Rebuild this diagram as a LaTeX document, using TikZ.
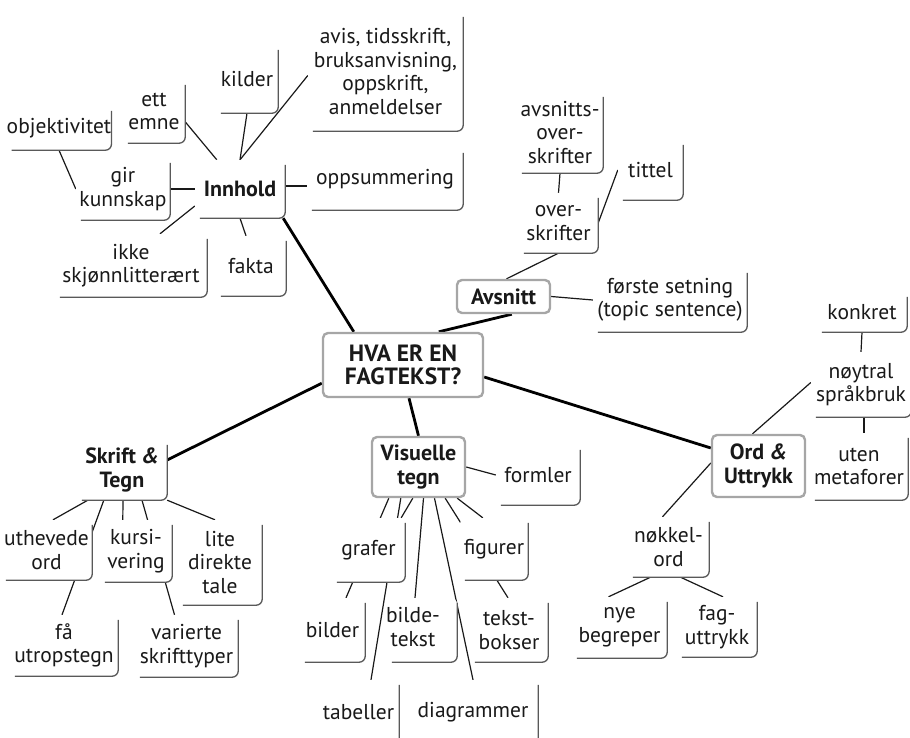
\documentclass[tikz,border=0pt]{standalone}
\usepackage{fontspec}
\setmainfont{PT Sans}
\usetikzlibrary{calc}
\pgfdeclarelayer{bg}
\pgfsetlayers{bg,main}
\begin{document}
\begin{tikzpicture}[x=1pt,y=-1pt,
  bx/.style={fill=white, rounded corners=6pt, inner sep=0pt, align=center,
    text=black!90, font=\fontsize{21.5}{23.5}\selectfont},
  boldbx/.style={bx, font=\fontsize{22}{23.5}\selectfont\bfseries},
  mainbx/.style={bx, draw=black!35, line width=2.4pt, rounded corners=5pt,
    font=\fontsize{22}{23.5}\selectfont\bfseries},
  shd/.style={draw=black!65, line width=1.3pt, rounded corners=6pt},
  ln/.style={draw=black!90, line width=1.2pt},
  tln/.style={draw=black, line width=2.8pt}]
\useasboundingbox (0,0) rectangle (910,738);

% ---------- Innhold ----------
\node[boldbx, minimum width=90pt, minimum height=58pt] (inn) at (240,189) {Innhold};
\node[bx, minimum width=155pt, minimum height=119pt] (avis) at (385.5,71.5) {avis, tidsskrift,\\bruksanvisning,\\oppskrift,\\anmeldelser};
\node[bx, minimum width=62pt, minimum height=68pt] (kil) at (247,79) {kilder};
\node[bx, minimum width=62pt, minimum height=63pt] (ett) at (154,111.5) {ett\\emne};
\node[bx, minimum width=102pt, minimum height=44pt] (obj) at (59,128) {objektivitet};
\node[bx, minimum width=94pt, minimum height=62pt] (gir) at (123,189) {gir\\kunnskap};
\node[bx, minimum width=156pt, minimum height=62pt] (opp) at (385,179) {oppsummering};
\node[bx, minimum width=152pt, minimum height=63pt] (ikke) at (131,265.5) {ikke\\skjønnlitterært};
\node[bx, minimum width=70pt, minimum height=60pt] (fak) at (251,266) {fakta};

% ---------- centre ----------
\node[mainbx, minimum width=160pt, minimum height=64pt, font=\fontsize{23.5}{23.5}\selectfont\bfseries] (hva) at (403,365) {HVA ER EN\\FAGTEKST?};

% ---------- Avsnitt ----------
\node[bx, minimum width=86pt, minimum height=81pt] (aos) at (560,132.5) {avsnitts-\\over-\\skrifter};
\node[bx, minimum width=79pt, minimum height=60pt] (ovr) at (558.5,223) {over-\\skrifter};
\node[bx, minimum width=65pt, minimum height=60pt] (tit) at (650.5,170) {tittel};
\node[mainbx, minimum width=93pt, minimum height=33pt] (avs) at (503.5,296.5) {Avsnitt};
\node[bx, minimum width=154pt, minimum height=64pt] (foer) at (670,300) {første setning\\(topic sentence)};

% ---------- Ord & Uttrykk ----------
\node[bx, minimum width=90pt, minimum height=40pt] (kon) at (862,312) {konkret};
\node[bx, minimum width=100pt, minimum height=65pt] (noy) at (861,384.5) {nøytral\\språkbruk};
\node[bx, minimum width=98pt, minimum height=67pt] (uten) at (859,466.5) {uten\\metaforer};
\node[mainbx, minimum width=93pt, minimum height=62pt] (ord) at (758.5,466) {Ord \textit{\&}\\Uttrykk};
\node[bx, minimum width=81pt, minimum height=60pt] (nok) at (668.5,547) {nøkkel-\\ord};
\node[bx, minimum width=95pt, minimum height=61pt] (nye) at (619.5,627.5) {nye\\begreper};
\node[bx, minimum width=80pt, minimum height=60pt] (fag) at (717,627) {fag-\\uttrykk};

% ---------- Visuelle tegn ----------
\node[mainbx, minimum width=93pt, minimum height=60pt] (vis) at (418.5,467) {Visuelle\\tegn};
\node[bx, minimum width=84pt, minimum height=60pt] (form) at (538,475) {formler};
\node[bx, minimum width=73pt, minimum height=64pt] (gra) at (368.5,550) {grafer};
\node[bx, minimum width=68pt, minimum height=62pt] (fig) at (494,549) {figurer};
\node[bx, minimum width=65pt, minimum height=64pt] (bil) at (332.5,630) {bilder};
\node[bx, minimum width=70pt, minimum height=64pt] (bt) at (422,630) {\hspace*{-18pt}\begin{tabular}{@{}c@{}}bilde-\\tekst\end{tabular}};
\node[bx, minimum width=78pt, minimum height=64pt] (tb) at (509,630) {tekst-\\bokser};
\node[bx, minimum width=81pt, minimum height=65pt] (tab) at (358.5,712.5) {tabeller};
\node[bx, minimum width=130pt, minimum height=65pt] (dia) at (473,712.5) {diagrammer};

% ---------- Skrift & Tegn ----------
\node[boldbx, minimum width=90pt, minimum height=60pt] (skr) at (122,470) {Skrift \textit{\&}\\Tegn};
\node[bx, minimum width=91pt, minimum height=60pt] (uth) at (46.5,550) {uthevede\\ord};
\node[bx, minimum width=72pt, minimum height=62pt] (kur) at (136,551) {kursi-\\vering};
\node[bx, minimum width=84pt, minimum height=85pt] (lit) at (220,562.5) {lite\\direkte\\tale};
\node[bx, minimum width=108pt, minimum height=61pt] (faa) at (64,645.5) {få\\utropstegn};
\node[bx, minimum width=103pt, minimum height=62pt] (var) at (186.5,646) {varierte\\skrifttyper};

% ---------- shadows ----------
\foreach \n in {inn,avis,kil,ett,obj,gir,opp,ikke,fak,aos,ovr,tit,foer,kon,noy,uten,nok,nye,fag,form,gra,fig,bil,bt,tb,tab,dia,skr,uth,kur,lit,faa,var}
  \draw[shd] ([yshift=-5pt]\n.north east) -- (\n.south east) -- ([xshift=5pt]\n.south west);

% ---------- connectors ----------
\begin{pgfonlayer}{bg}
% Innhold
\draw[ln] ($(ett.north east)+(0,42)$) -- ($(inn.north west)+(22,0)$);
\draw[ln] (kil.south) -- (inn.north);
\draw[ln] ($(avis.west)+(0,4)$) -- (inn.north);
\draw[ln] (obj.south) -- (gir.west);
\draw[ln] (gir.east) -- (inn.west);
\draw[ln] ($(inn.east)+(0,-3)$) -- ($(opp.west)+(0,7)$);
\draw[ln] ($(inn.west)+(0,17)$) -- ($(ikke.north)+(29,0)$);
\draw[ln] (inn.south) -- ($(fak.north)+(-5,0)$);
% Avsnitt
\draw[ln] (aos.south) -- (ovr.north);
\draw[ln] (ovr.east) -- (tit.west);
\draw[ln] (ovr.south) -- ($(avs.north)+(3,0)$);
\draw[ln] (avs.east) -- (foer.west);
% Ord
\draw[ln] (kon.south) -- (noy.north);
\draw[ln] ($(noy.south)+(3,0)$) -- ($(uten.north)+(5,0)$);
\draw[ln] ($(ord.north)+(-6,0)$) -- ($(noy.west)+(0,-2)$);
\draw[ln] ($(ord.west)+(0,-3)$) -- ($(nok.north)+(-6,0)$);
\draw[ln] ($(nok.south)+(-18,0)$) -- ($(nye.north)+(-11,0)$);
\draw[ln] ($(nok.south)+(12,0)$) -- ($(fag.north)+(6,0)$);
% centre
\draw[tln] ($(inn.south east)+(-2,0)$) -- ($(hva.north west)+(32,0)$);
\draw[tln] ($(hva.north west)+(117,0)$) -- ($(avs.south west)+(56,0)$);
\draw[tln] ($(hva.south west)+(0,-15)$) -- ($(skr.east)+(0,-10)$);
\draw[tln] ($(hva.south)+(6,0)$) -- (vis.north);
\draw[tln] ($(hva.east)+(0,12)$) -- ($(ord.west)+(0,-18)$);
% Visuelle
\draw[ln] (vis.east) -- (form.west);
\draw[ln] ($(vis.south west)+(18,0)$) -- ($(bil.north)+(13.5,0)$);
\draw[ln] ($(vis.south west)+(30,0)$) -- ($(tab.north)+(12.5,0)$);
\draw[ln] ($(vis.south west)+(42,0)$) -- ($(gra.north east)+(-4,0)$);
\draw[ln] ($(vis.south)+(5,0)$) -- ($(bt.north)+(-7,0)$);
\draw[ln] ($(vis.south)+(16,0)$) -- (dia.north);
\draw[ln] ($(vis.south east)+(-21,0)$) -- ($(tb.north)+(-1,0)$);
\draw[ln] ($(vis.south east)+(-9,0)$) -- ($(fig.north west)+(23,0)$);
% Skrift
\draw[ln] ($(skr.south west)+(11,0)$) -- ($(uth.north)+(6.5,0)$);
\draw[ln] ($(skr.south west)+(27,0)$) -- ($(faa.north)+(-2,0)$);
\draw[ln] ($(skr.south)+(1,0)$) -- ($(kur.north west)+(23,0)$);
\draw[ln] ($(skr.south)+(20,0)$) -- ($(var.north)+(-12,0)$);
\draw[ln] (skr.south east) -- ($(lit.north)+(-5,0)$);
\end{pgfonlayer}
\end{tikzpicture}
\end{document}
